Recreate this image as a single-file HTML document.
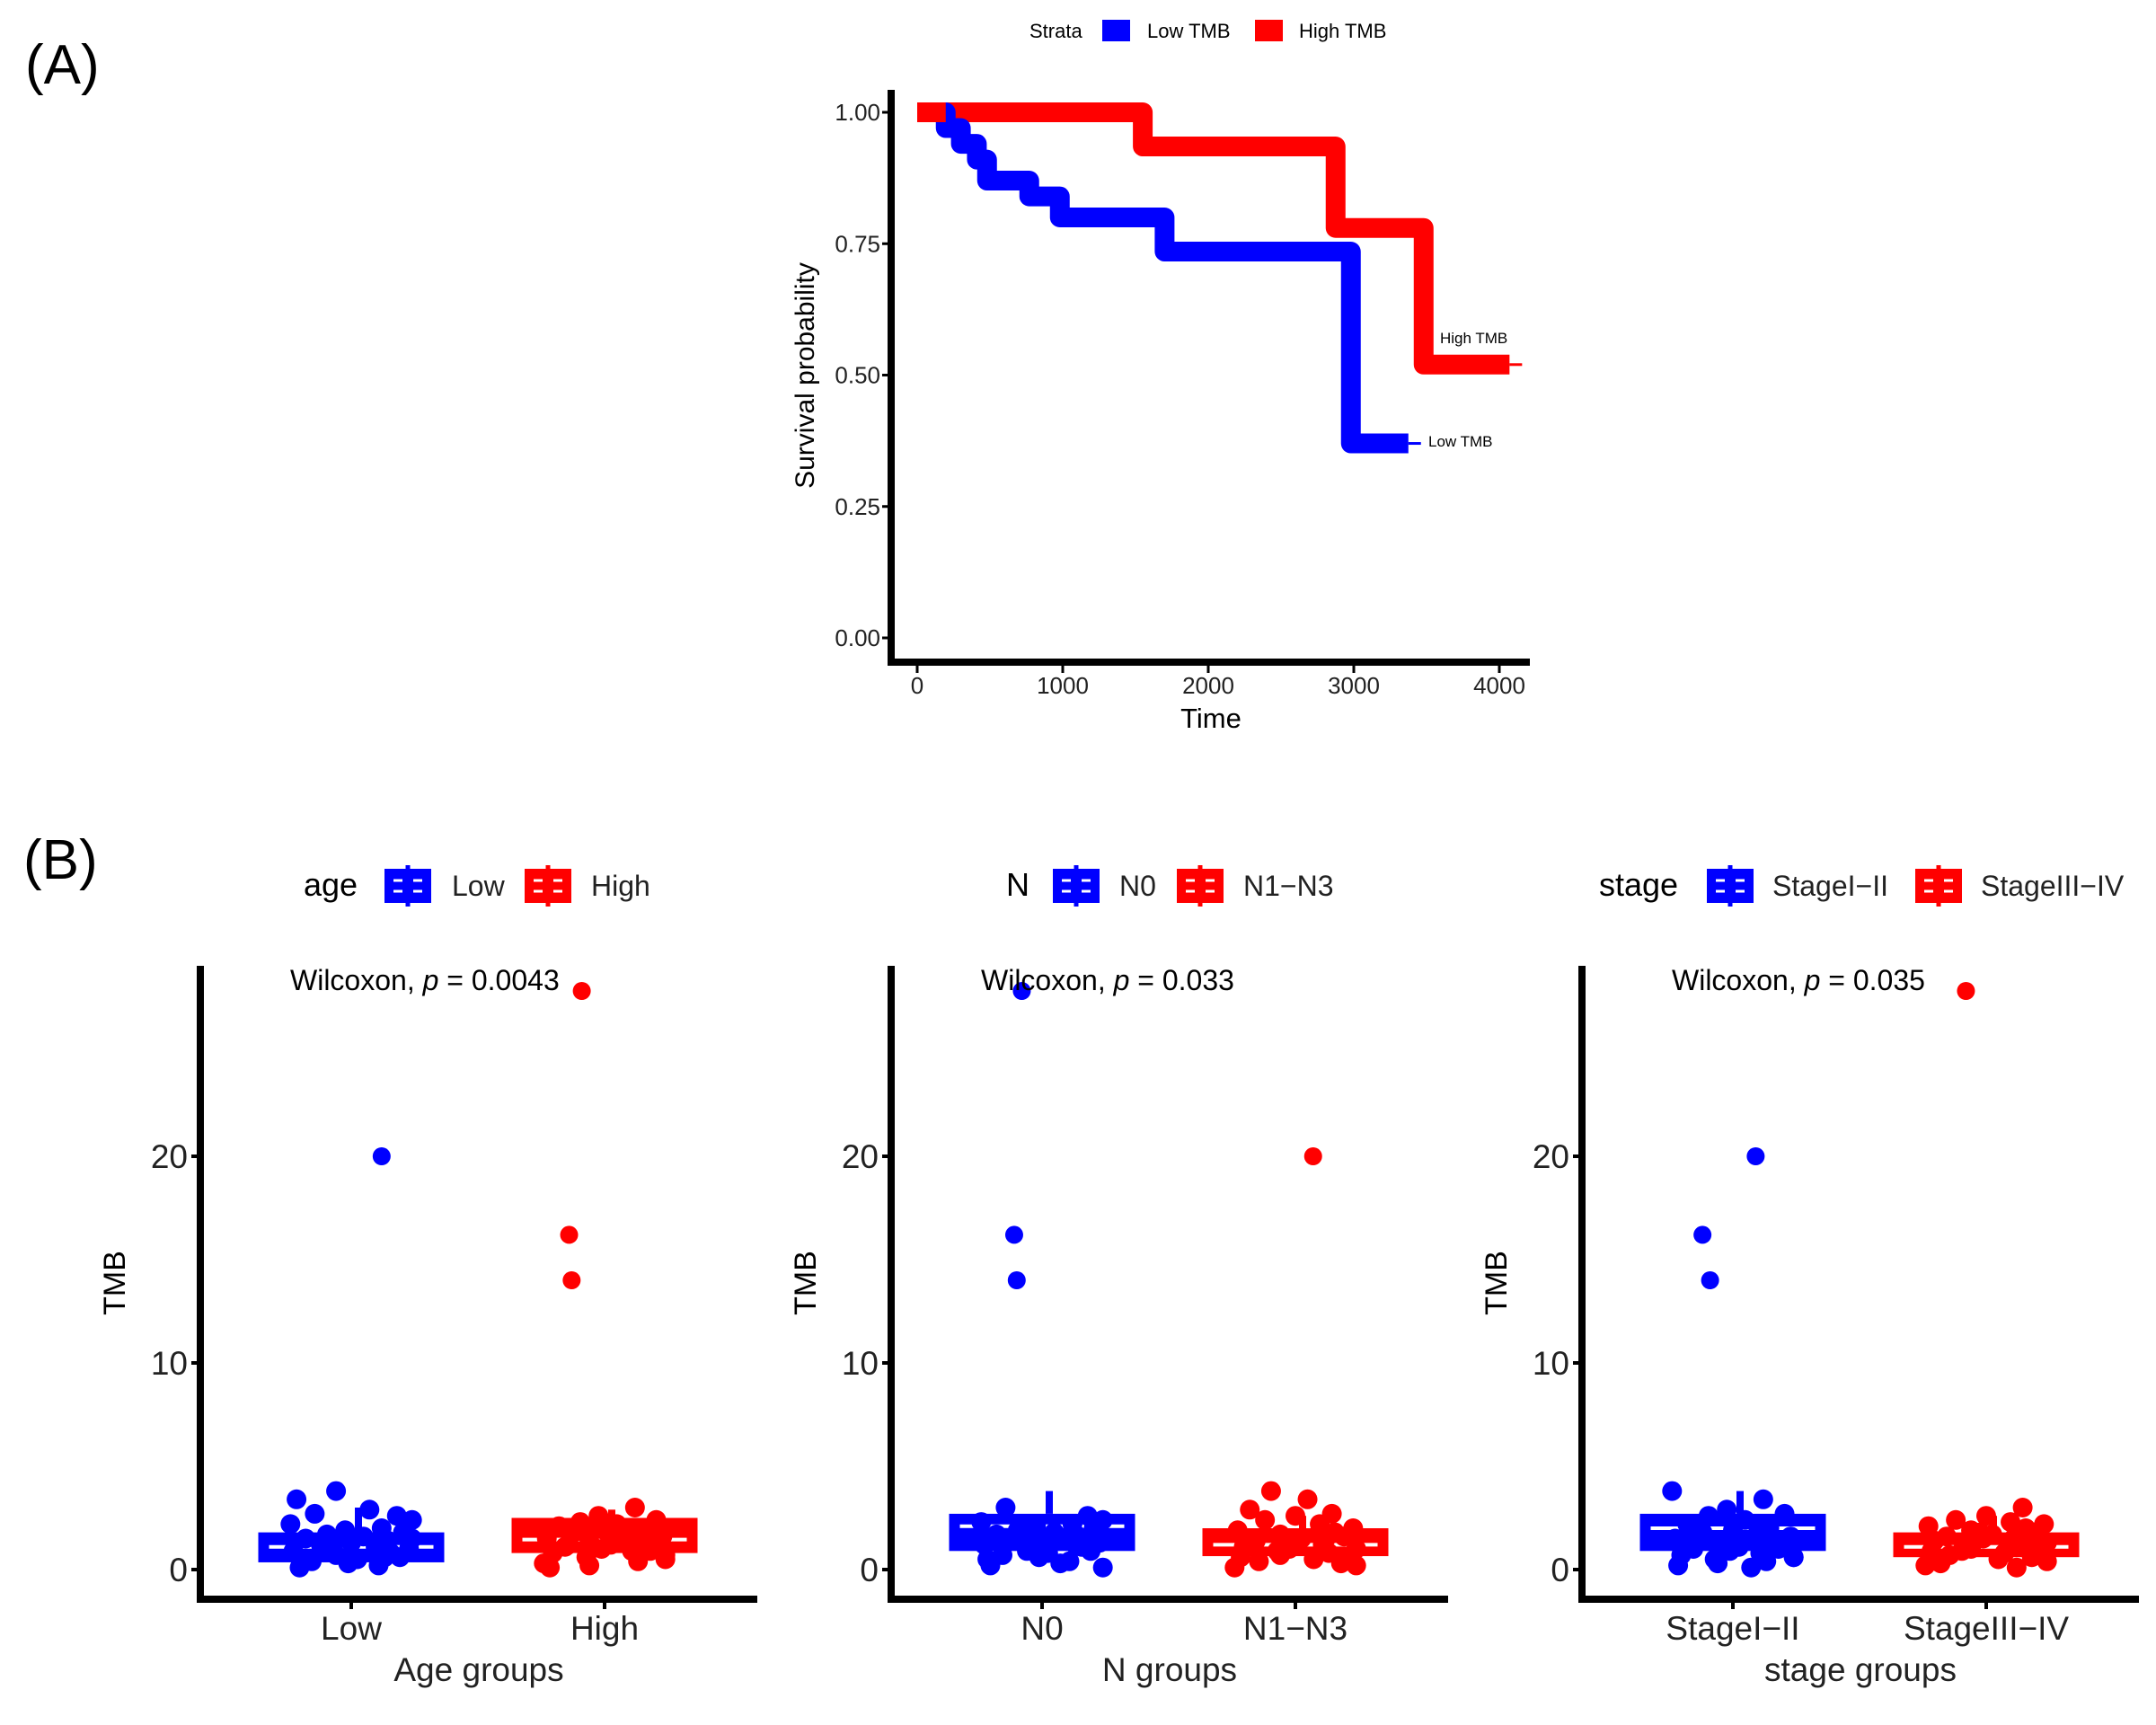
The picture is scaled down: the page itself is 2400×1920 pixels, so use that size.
<!DOCTYPE html>
<html><head><meta charset="utf-8"><style>
html,body{margin:0;padding:0;background:#fff;}
svg{display:block;font-family:"Liberation Sans",sans-serif;}
</style></head><body>
<svg id="fig" width="2400" height="1920" viewBox="0 0 2400 1920" xmlns="http://www.w3.org/2000/svg">
<text x="28" y="93" font-size="62">(A)</text>
<text x="26" y="978" font-size="62">(B)</text>
<g id="km"></g>
<g id="boxes"></g>
</svg>
<script>
// ---- KM data ----
const lowTimes = [0, 196, 300, 410, 480, 770, 980, 1700, 2980, 3375];
const lowSurv  = [1.00, 0.97, 0.94, 0.91, 0.87, 0.84, 0.80, 0.735, 0.37, 0.37];
const highTimes = [0, 1550, 2875, 3480, 4070];
const highSurv  = [1.00, 0.935, 0.78, 0.52, 0.52];
const kmXTicks = [0, 1000, 2000, 3000, 4000];
const kmYTicks = [0, 0.25, 0.5, 0.75, 1.0];
const kmYLabels = ["0.00", "0.25", "0.50", "0.75", "1.00"];

// ---- Box plot data ----
const panelVars = ["age", "N", "stage"];
const panelCats = [["Low", "High"], ["N0", "N1\u2212N3"], ["StageI\u2212II", "StageIII\u2212IV"]];
const panelXTitles = ["Age groups", "N groups", "stage groups"];
const panelP = ["0.0043", "0.033", "0.035"];
const boxQ1 = [[0.35, 0.8], [0.9, 0.65], [0.9, 0.6]];
const boxMed = [[1.1, 1.45], [2.1, 1.2], [2.0, 1.1]];
const boxQ3 = [[1.8, 2.5], [2.7, 2.0], [2.7, 1.8]];
const boxWhiskTop = [[3.0, 2.9], [3.8, 2.6], [3.8, 2.6]];
const yTicks = [0, 10, 20];
const clusterA = [3.8,3.4,2.9,2.7,2.6,2.4,2.2,2.0,1.9,1.8,1.7,1.6,1.5,1.4,1.3,1.2,1.1,1.0,0.9,0.8,0.7,0.6,0.5,0.4,0.3,0.2,0.1,1.5,1.0,0.6];
const clusterB = [3.0,2.6,2.4,2.3,2.2,2.1,2.0,1.9,1.8,1.7,1.6,1.5,1.5,1.4,1.3,1.2,1.1,1.0,0.9,0.8,0.7,0.6,0.4,0.2,0.1,1.8,1.2,0.9,0.5,0.3];
const jitter = [-0.05,-0.18,0.06,-0.12,0.15,0.2,-0.2,0.1,-0.02,0.17,-0.08,0.04,-0.15,0.12,0.0,-0.1,0.08,0.19,-0.19,0.13,-0.05,0.16,0.02,-0.13,-0.01,0.09,-0.17,0.2,-0.06,0.11];
const outlierVals = [[[20], [28, 16.2, 14]], [[28, 16.2, 14], [20]], [[16.2, 14, 20], [28]]];
const outlierJit = [[[0.12], [-0.09, -0.14, -0.13]], [[-0.08, -0.11, -0.1], [0.07]], [[-0.12, -0.09, 0.09], [-0.08]]];

const NS = "http://www.w3.org/2000/svg";
function mk(tag, attrs, parent, text) {
  const e = document.createElementNS(NS, tag);
  for (const k in attrs) e.setAttribute(k, attrs[k]);
  if (text !== undefined) e.textContent = text;
  parent.appendChild(e);
  return e;
}
const BLUE = "#0000ff", RED = "#ff0000";

// ---- KM plot ----
const km = document.getElementById("km");
const kx = t => 1021 + t * 0.162;
const ky = s => 710 - s * 585;
function stepPath(ts, ss) {
  let d = "M" + kx(ts[0]) + "," + ky(ss[0]);
  for (let i = 1; i < ts.length; i++) {
    d += " L" + kx(ts[i]) + "," + ky(ss[i - 1]) + " L" + kx(ts[i]) + "," + ky(ss[i]);
  }
  return d;
}
let p = mk("path", {d: stepPath(highTimes, highSurv), fill: "none", stroke: RED, "stroke-width": 22, "stroke-linejoin": "round"}, km);


p = mk("path", {d: stepPath(lowTimes, lowSurv), fill: "none", stroke: BLUE, "stroke-width": 22, "stroke-linejoin": "round"}, km);


p = mk("path", {d: "M" + kx(0) + "," + ky(1) + " L" + kx(lowTimes[1]) + "," + ky(1), stroke: RED, "stroke-width": 22}, km);


p = mk("path", {d: "M" + (kx(highTimes[highTimes.length-1])) + "," + ky(highSurv[highSurv.length-1]) + " h14", stroke: RED, "stroke-width": 3}, km);


p = mk("path", {d: "M" + (kx(lowTimes[lowTimes.length-1])) + "," + ky(lowSurv[lowSurv.length-1]) + " h14", stroke: BLUE, "stroke-width": 3}, km);


let a = mk("path", {d: "M992,100 V737 H1703", fill: "none", stroke: "#000", "stroke-width": 8}, km);


kmYTicks.forEach((v, i) => {
  mk("line", {x1: 982, x2: 990, y1: ky(v), y2: ky(v), stroke: "#000", "stroke-width": 3}, km);
  const t = mk("text", {x: 980, y: ky(v) + 9, "font-size": 26, "text-anchor": "end", fill: "#222"}, km, kmYLabels[i]);
  
  
});
kmXTicks.forEach(v => {
  mk("line", {x1: kx(v), x2: kx(v), y1: 741, y2: 749, stroke: "#000", "stroke-width": 3}, km);
  const t = mk("text", {x: kx(v), y: 772, "font-size": 26, "text-anchor": "middle", fill: "#222"}, km, String(v));
  
  
});
let t = mk("text", {x: 1348, y: 810, "font-size": 31, "text-anchor": "middle"}, km, "Time");


t = mk("text", {x: 0, y: 0, "font-size": 30, "text-anchor": "middle", transform: "translate(906,418) rotate(-90)"}, km, "Survival probability");


t = mk("text", {x: 1603, y: 382, "font-size": 17}, km, "High TMB");


t = mk("text", {x: 1590, y: 497, "font-size": 17}, km, "Low TMB");


t = mk("text", {x: 1146, y: 42, "font-size": 22}, km, "Strata");


let r = mk("rect", {x: 1227, y: 22, width: 31, height: 24, fill: BLUE}, km);


t = mk("text", {x: 1277, y: 42, "font-size": 22}, km, "Low TMB");


r = mk("rect", {x: 1397, y: 22, width: 31, height: 24, fill: RED}, km);


t = mk("text", {x: 1446, y: 42, "font-size": 22}, km, "High TMB");



// ---- Box panels ----
const bx = document.getElementById("boxes");
const clusters = [clusterA, clusterB];
const legendX = [[338, 428, 503, 584, 658], [1120, 1172, 1246, 1310, 1384], [1780, 1900, 1973, 2132, 2205]];
function legendKey(g, x, color) {
  const k = mk("g", {}, g);
  
  
  mk("line", {x1: x + 26, x2: x + 26, y1: 963, y2: 1009, stroke: color, "stroke-width": 5}, k);
  mk("rect", {x: x, y: 967, width: 52, height: 38, fill: color}, k);
  mk("line", {x1: x + 10, x2: x + 42, y1: 980, y2: 980, stroke: "#fff", "stroke-width": 3, "stroke-dasharray": "10 12"}, k);
  mk("line", {x1: x + 10, x2: x + 42, y1: 992, y2: 992, stroke: "#fff", "stroke-width": 3, "stroke-dasharray": "10 12"}, k);
}
for (let pi = 0; pi < 3; pi++) {
  const ox = 223 + pi * 769;
  const g = mk("g", {}, bx);
  
  
  const y = v => 1747 - v * 23;
  const cx = ci => ox + 168 + ci * 282;
  const bw = 207, jw = 282;
  const L = legendX[pi];
  let tt = mk("text", {x: L[0], y: 997, "font-size": 36}, g, panelVars[pi]);
  
  
  legendKey(g, L[1], BLUE);
  tt = mk("text", {x: L[2], y: 997, "font-size": 32, fill: "#222"}, g, panelCats[pi][0]);
  
  
  legendKey(g, L[3], RED);
  tt = mk("text", {x: L[4], y: 997, "font-size": 32, fill: "#222"}, g, panelCats[pi][1]);
  
  
  for (let ci = 0; ci < 2; ci++) {
    const col = ci === 0 ? BLUE : RED;
    const c = cx(ci);
    const wl = mk("line", {x1: c + 8, x2: c + 8, y1: y(boxQ3[pi][ci]), y2: y(boxWhiskTop[pi][ci]), stroke: col, "stroke-width": 8}, g);
    
    
    const br = mk("rect", {x: c - bw / 2, y: y(boxQ3[pi][ci]), width: bw, height: y(boxQ1[pi][ci]) - y(boxQ3[pi][ci]), fill: col}, g);
    
    
    const ml = mk("line", {x1: c - bw / 2 + 12, x2: c + bw / 2 - 12, y1: y(boxMed[pi][ci]), y2: y(boxMed[pi][ci]), stroke: "#fff", "stroke-width": 4}, g);
    
    
    const vals = clusters[(pi + ci) % 2];
    vals.forEach((v, i) => {
      const pt = mk("circle", {cx: c + jitter[(i + ci * 7 + pi * 3) % jitter.length] * jw * 1.2, cy: y(v), r: 11, fill: col}, g);
      
      
    });
    outlierVals[pi][ci].forEach((v, i) => {
      const pt = mk("circle", {cx: c + outlierJit[pi][ci][i] * jw, cy: y(v), r: 10, fill: col}, g);
      
      
    });
    const tk = mk("line", {x1: c, x2: c, y1: 1783, y2: 1791, stroke: "#000", "stroke-width": 4}, g);
    
    
    tt = mk("text", {x: c, y: 1825, "font-size": 37, "text-anchor": "middle", fill: "#222"}, g, panelCats[pi][ci]);
    
    
  }
  const ax = mk("path", {d: "M" + ox + ",1075 V1780 H" + (ox + 620), fill: "none", stroke: "#000", "stroke-width": 8}, g);
  
  
  yTicks.forEach(v => {
    mk("line", {x1: ox - 10, x2: ox, y1: y(v), y2: y(v), stroke: "#000", "stroke-width": 4}, g);
    const yl = mk("text", {x: ox - 14, y: y(v) + 13, "font-size": 37, "text-anchor": "end", fill: "#222"}, g, String(v));
    
    
  });
  tt = mk("text", {x: 0, y: 0, "font-size": 34, "text-anchor": "middle", transform: "translate(" + (ox - 84) + ",1428) rotate(-90)"}, g, "TMB");
  
  
  tt = mk("text", {x: ox + 310, y: 1871, "font-size": 37, "text-anchor": "middle", fill: "#222"}, g, panelXTitles[pi]);
  
  
  tt = mk("text", {x: ox + 100, y: 1102, "font-size": 32}, g);
  
  
  mk("tspan", {}, tt, "Wilcoxon, ");
  mk("tspan", {"font-style": "italic"}, tt, "p");
  mk("tspan", {}, tt, " = " + panelP[pi]);
}
</script>
</body></html>
